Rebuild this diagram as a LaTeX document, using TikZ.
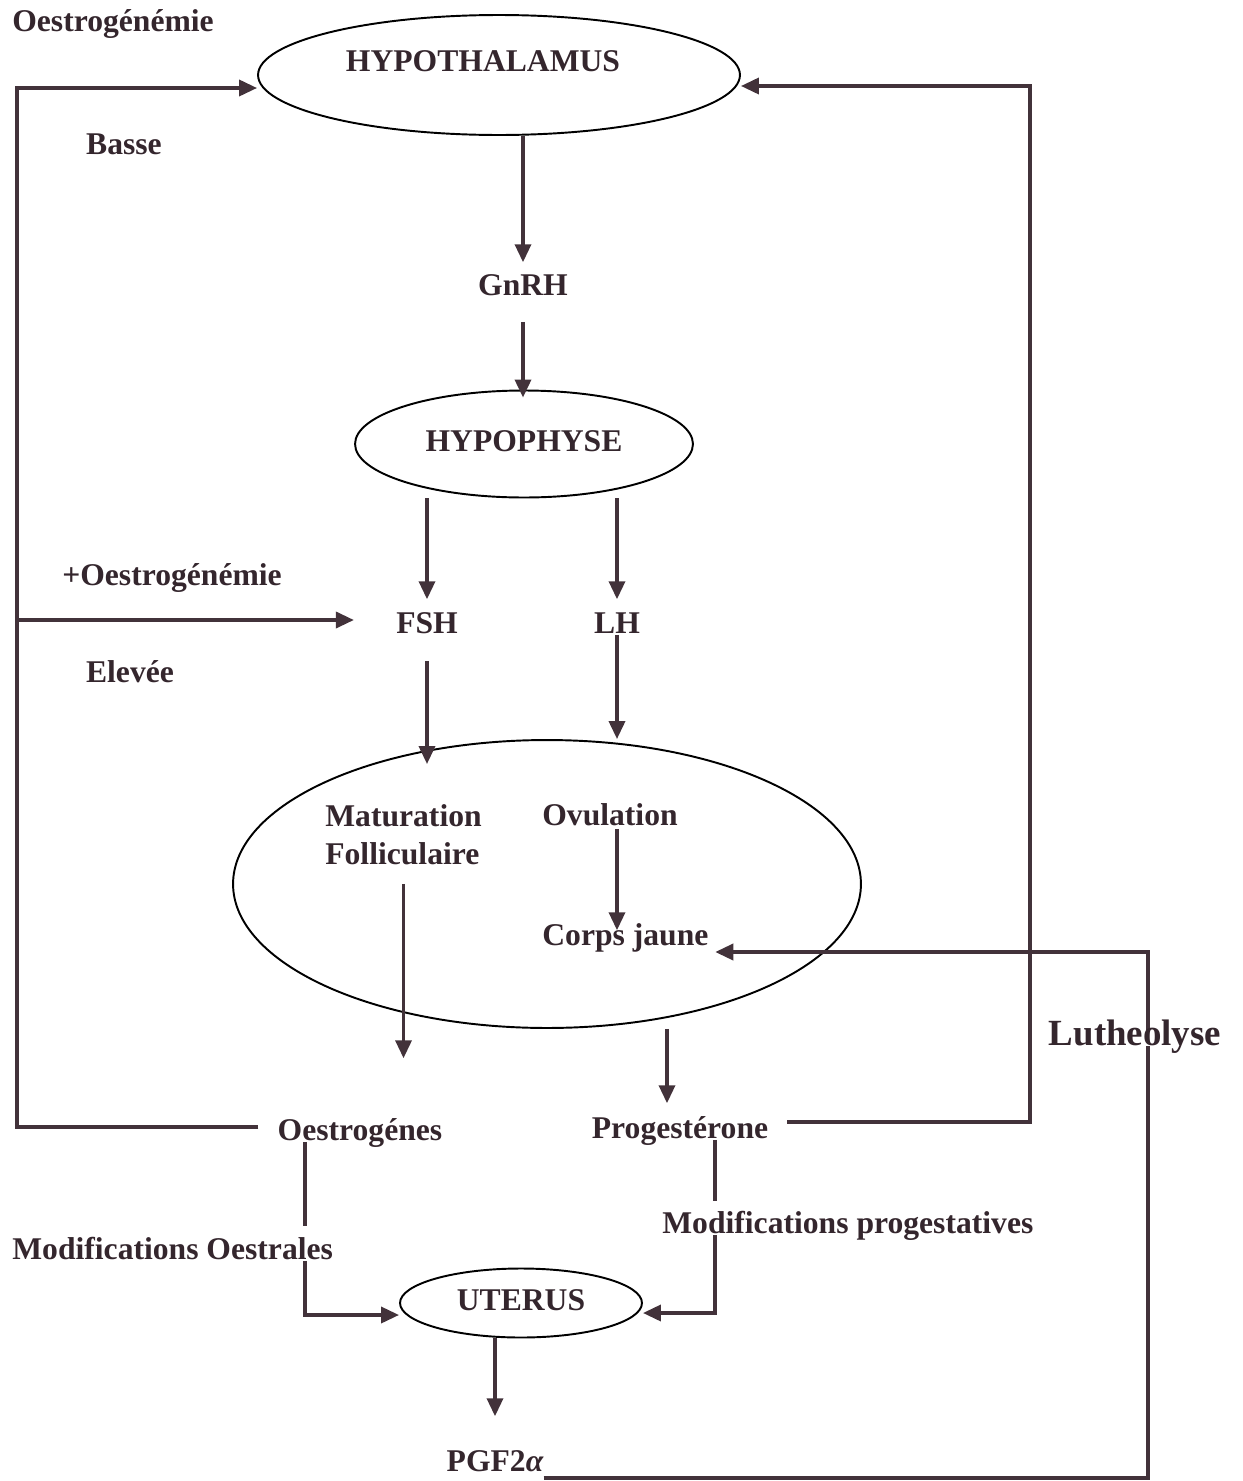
\documentclass[tikz,border=0pt]{standalone}
\usepackage{fontspec}
\setmainfont{Liberation Serif}
\usetikzlibrary{shapes.geometric,arrows.meta}
\definecolor{encre}{RGB}{52,38,45}
\definecolor{trait}{RGB}{66,50,58}

\begin{document}
\begin{tikzpicture}[
        x=0.02cm, y=-0.02cm,
        font=\fontsize{18}{21.5}\selectfont\bfseries,
        lbl/.style={inner sep=0pt, text height=0.86em, text depth=0.04em, text=encre},
        oval/.style={ellipse, draw=black, line width=1.1pt, lbl},
        ln/.style={draw=trait, line width=2pt},
        arr/.style={ln, -{Triangle[length=0.36cm, width=0.32cm]}}
        ]
            \useasboundingbox (0,0) rectangle (1242,1481);

            % Organes
            \node[oval, minimum width=9.64cm, minimum height=2.4cm,
                  label={[lbl, xshift=-0.32cm, yshift=0.21cm]center:HYPOTHALAMUS}]
                  (HYPT) at (499,75) {};
            \node[oval, minimum width=6.76cm, minimum height=2.14cm] (HYPO) at (524,444) {HYPOPHYSE};
            \node[oval, minimum width=12.56cm, minimum height=5.76cm] (OV) at (547,884) {};
            \node[oval, minimum width=4.84cm, minimum height=1.38cm] (UTE) at (521,1303) {UTERUS};

            % Textes
            \node[lbl, anchor=west] (OEtop) at (12,24.5) {Oestrogénémie};
            \node[lbl] (BAS) at (124,147.5) {Basse};
            \node[lbl] (GNRH) at (523,288.5) {GnRH};
            \node[lbl] (OEplus) at (172,578) {+Oestrogénémie};
            \node[lbl] (ELE) at (130,675.5) {Elevée};
            \node[lbl] (FSH) at (427,626.5) {FSH};
            \node[lbl] (LH) at (617,626.5) {LH};
            \node[inner sep=0pt, text=encre, align=left, anchor=west] (MAT) at (325,835)
                  {Maturation\\Folliculaire};
            \node[lbl, anchor=west] (OVUL) at (542,818.5) {Ovulation};
            \node[lbl, anchor=west] (CJ) at (542,938.5) {Corps jaune};
            \node[lbl] (OES) at (360,1133.5) {Oestrogénes};
            \node[lbl] (PROG) at (680,1131.5) {Progestérone};
            \node[lbl, anchor=west] (MODO) at (12,1252.5) {Modifications Oestrales};
            \node[lbl, anchor=west] (MODP) at (662,1226.5) {Modifications progestatives};
            \node[lbl] (PGF) at (495,1464.5) {PGF2{\itshape α}};

            % Points de passage
            \coordinate (oeBL) at (17,1127);
            \coordinate (oeML) at (17,620);
            \coordinate (oeTL) at (17,88);
            \coordinate (prBR) at (1030,1122);
            \coordinate (prTR) at (1030,86);
            \coordinate (luBR) at (1148,1478);
            \coordinate (luTR) at (1148,952);
            \coordinate (oeX) at (305,0);
            \coordinate (prX) at (715,0);
            \coordinate (prIn) at ([xshift=-0.26cm]PROG.north);

            % Axe central
            \draw[arr, shorten >=0.36cm] (HYPT.south -| GNRH) -- (GNRH.north);
            \draw[arr, shorten <=0.5cm, shorten >=-0.16cm] (GNRH.south) -- (GNRH |- HYPO.north);
            \draw[arr, shorten >=0.38cm] (HYPO.south -| FSH) -- (FSH.north);
            \draw[arr, shorten >=0.38cm] (HYPO.south -| LH) -- (LH.north);
            \draw[arr, shorten <=0.52cm, shorten >=-0.5cm] (FSH.south) -- (FSH |- OV.north);
            \draw[arr] (LH.south) -- (LH |- OV.north);
            \draw[arr, shorten <=0.04cm] (OVUL.south -| LH) -- (LH |- CJ.north);
            \draw[arr, shorten <=0.37cm, shorten >=1.34cm] (MAT.south) -- (MAT.south |- OES.north);
            \draw[arr, shorten >=0.4cm] (prIn |- OV.south) -- (prIn);

            % Retrocontrole
            \draw[arr, shorten <=0.38cm] (OES.west |- oeBL) -- (oeBL) -- (oeTL) -- (oeTL -| HYPT.west);
            \draw[arr, shorten >=0.84cm] (oeML) -- (oeML -| FSH.west);
            \draw[arr, shorten <=0.38cm] (PROG.east |- prBR) -- (prBR) -- (prTR) -- (prTR -| HYPT.east);

            % Lutheolyse
            \draw[arr, shorten >=0.13cm] (PGF.east |- luBR) -- (luBR) -- (luTR) -- (luTR -| CJ.east);
            \node[lbl, fill=white, font=\fontsize{21}{24}\selectfont\bfseries] (LUT) at (1135,1038) {Lutheolyse};

            % Uterus
            \draw[ln, shorten >=0.36cm] (OES.south -| oeX) -- (MODO.north -| oeX);
            \draw[arr] (MODO.south -| oeX) |- ([yshift=-0.24cm]UTE.west);
            \draw[ln, shorten >=0.34cm] (PROG.south -| prX) -- (MODP.north -| prX);
            \draw[arr] (MODP.south -| prX) |- ([yshift=-0.2cm]UTE.east);
            \draw[arr, shorten >=0.8cm] (UTE.south -| PGF) -- (PGF.north);

        \end{tikzpicture}
\end{document}
